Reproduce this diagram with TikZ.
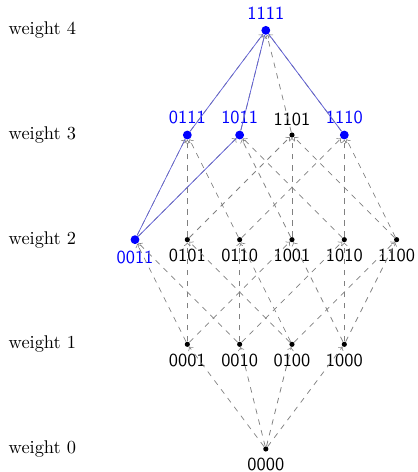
\documentclass[tikz,border=0pt]{standalone}
\definecolor{hiblue}{RGB}{95,95,215}
\begin{document}
\begin{tikzpicture}[x=1cm,y=1cm,
  dot/.style={circle,fill=black,inner sep=0pt,minimum size=2.8pt},
  bdot/.style={circle,fill=blue,inner sep=0pt,minimum size=4.8pt},
  lab/.style={font=\sffamily},
  blab/.style={font=\sffamily,text=blue},
  edge/.style={->,dashed,gray},
  hedge/.style={hiblue,thin},
  wlab/.style={anchor=west,inner sep=0pt}]
\useasboundingbox (-5.08,-0.44) rectangle (2.90,8.58);
% weight labels
\node[wlab] (w4) at (-4.92,8) {weight 4};
\node[wlab] (w3) at (-4.92,6) {weight 3};
\node[wlab] (w2) at (-4.92,4) {weight 2};
\node[wlab] (w1) at (-4.92,2) {weight 1};
\node[wlab] (w0) at (-4.92,0) {weight 0};
% weight 0
\node[dot,label={[lab]below:0000}] (n0000) at (0,0) {};
% weight 1
\node[dot,label={[lab]below:0001}] (n0001) at (-1.5,2) {};
\node[dot,label={[lab]below:0010}] (n0010) at (-0.5,2) {};
\node[dot,label={[lab]below:0100}] (n0100) at (0.5,2) {};
\node[dot,label={[lab]below:1000}] (n1000) at (1.5,2) {};
% weight 2
\node[bdot,label={[blab]below:0011}] (n0011) at (-2.5,4) {};
\node[dot,label={[lab]below:0101}] (n0101) at (-1.5,4) {};
\node[dot,label={[lab]below:0110}] (n0110) at (-0.5,4) {};
\node[dot,label={[lab]below:1001}] (n1001) at (0.5,4) {};
\node[dot,label={[lab]below:1010}] (n1010) at (1.5,4) {};
\node[dot,label={[lab]below:1100}] (n1100) at (2.5,4) {};
% weight 3
\node[bdot,label={[blab]above:0111}] (n0111) at (-1.5,6) {};
\node[bdot,label={[blab]above:1011}] (n1011) at (-0.5,6) {};
\node[dot,label={[lab]above:1101}] (n1101) at (0.5,6) {};
\node[bdot,label={[blab]above:1110}] (n1110) at (1.5,6) {};
% weight 4
\node[bdot,label={[blab]above:1111}] (n1111) at (0,8) {};
% dashed edges
\foreach \a/\b in {0000/0001,0000/0010,0000/0100,0000/1000,
  0001/0011,0001/0101,0001/1001,
  0010/0011,0010/0110,0010/1010,
  0100/0101,0100/0110,0100/1100,
  1000/1001,1000/1010,1000/1100,
  0011/0111,0011/1011,
  0101/0111,0101/1101,
  0110/0111,0110/1110,
  1001/1011,1001/1101,
  1010/1011,1010/1110,
  1100/1101,1100/1110,
  0111/1111,1011/1111,1101/1111,1110/1111}
  \draw[edge] (n\a) -- (n\b);
% highlighted edges
\draw[hedge] (n0011) -- (n0111);
\draw[hedge] (n0011) -- (n1011);
\draw[hedge] (n0111) -- (n1111);
\draw[hedge] (n1011) -- (n1111);
\draw[hedge] (n1110) -- (n1111);
\end{tikzpicture}
\end{document}
